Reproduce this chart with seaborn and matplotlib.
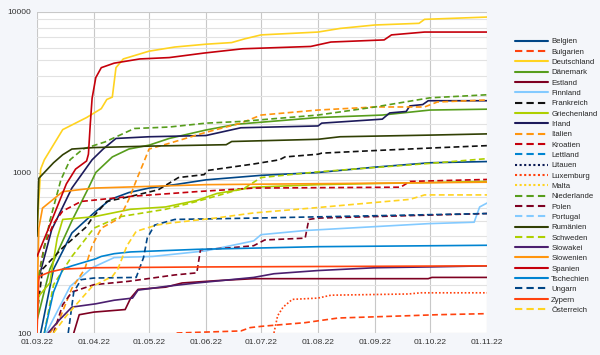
import pandas as pd
import matplotlib
matplotlib.use("Agg")
import matplotlib.pyplot as plt
import matplotlib.dates as mdates
from matplotlib.ticker import FixedLocator, NullFormatter, FuncFormatter
import seaborn as sns

# ---------------- DATA (Datum, Wert) ----------------
BELGIEN = [("03.03.22", 100), ("10.03.22", 250), ("20.03.22", 420), ("01.04.22", 560), ("10.04.22", 680),
           ("20.04.22", 750), ("01.05.22", 800), ("15.05.22", 840), ("01.06.22", 900), ("01.07.22", 960),
           ("01.08.22", 1000), ("01.09.22", 1080), ("01.10.22", 1150), ("01.11.22", 1170)]
BULGARIEN = [("16.05.22", 100), ("20.06.22", 103), ("25.06.22", 108), ("01.07.22", 110), ("25.07.22", 116),
             ("12.08.22", 124), ("18.09.22", 128), ("05.10.22", 130), ("01.11.22", 132)]
DEUTSCHLAND = [("01.03.22", 430), ("03.03.22", 1050), ("05.03.22", 1200), ("15.03.22", 1850), ("28.03.22", 2200),
               ("05.04.22", 2500), ("08.04.22", 2850), ("11.04.22", 2950), ("13.04.22", 4500), ("17.04.22", 5100),
               ("01.05.22", 5700), ("15.05.22", 6050), ("01.06.22", 6300), ("15.06.22", 6450), ("22.06.22", 6800),
               ("01.07.22", 7200), ("01.08.22", 7500), ("13.08.22", 7900), ("01.09.22", 8300), ("25.09.22", 8500),
               ("28.09.22", 9000), ("01.11.22", 9300)]
DAENEMARK = [("01.03.22", 120), ("08.03.22", 250), ("20.03.22", 500), ("29.03.22", 800), ("02.04.22", 1000),
             ("11.04.22", 1250), ("20.04.22", 1400), ("01.05.22", 1480), ("12.05.22", 1630), ("01.06.22", 1840),
             ("18.06.22", 2000), ("01.08.22", 2200), ("05.09.22", 2280), ("01.10.22", 2450), ("01.11.22", 2480)]
ESTLAND = [("21.03.22", 100), ("24.03.22", 130), ("01.04.22", 135), ("18.04.22", 140), ("21.04.22", 165),
           ("25.04.22", 187), ("10.05.22", 193), ("19.05.22", 205), ("07.06.22", 212), ("27.06.22", 218),
           ("30.09.22", 218), ("02.10.22", 222), ("01.11.22", 222)]
FINNLAND = [("06.03.22", 100), ("19.03.22", 195), ("31.03.22", 255), ("12.04.22", 295), ("03.05.22", 300),
            ("01.06.22", 325), ("27.06.22", 375), ("01.07.22", 410), ("25.07.22", 435), ("01.09.22", 460),
            ("30.09.22", 480), ("25.10.22", 490), ("28.10.22", 610), ("01.11.22", 645)]
FRANKREICH = [("01.03.22", 130), ("04.03.22", 250), ("15.03.22", 340), ("28.03.22", 460), ("31.03.22", 520),
              ("08.04.22", 660), ("21.04.22", 710), ("06.05.22", 780), ("17.05.22", 930), ("31.05.22", 970),
              ("02.06.22", 1030), ("27.06.22", 1130), ("11.07.22", 1200), ("14.07.22", 1250), ("01.08.22", 1300),
              ("03.08.22", 1320), ("01.09.22", 1370), ("01.10.22", 1420), ("01.11.22", 1470)]
GRIECHENLAND = [("01.03.22", 120), ("02.03.22", 170), ("08.03.22", 205), ("12.03.22", 390), ("15.03.22", 510),
                ("01.04.22", 530), ("21.04.22", 590), ("10.05.22", 610), ("27.05.22", 670), ("07.06.22", 740),
                ("27.06.22", 810), ("01.08.22", 840), ("01.11.22", 880)]
IRLAND = [("01.03.22", 200), ("09.03.22", 440), ("20.03.22", 800), ("31.03.22", 1200), ("06.04.22", 1400),
          ("13.04.22", 1630), ("01.05.22", 1670), ("01.06.22", 1700), ("20.06.22", 1900), ("01.08.22", 1950),
          ("03.08.22", 2030), ("05.09.22", 2150), ("09.09.22", 2350), ("18.09.22", 2400), ("20.09.22", 2600),
          ("27.09.22", 2650), ("30.09.22", 2800), ("01.11.22", 2800)]
ITALIEN = [("08.03.22", 100), ("13.03.22", 120), ("20.03.22", 190), ("27.03.22", 250), ("31.03.22", 350),
           ("05.04.22", 450), ("15.04.22", 520), ("20.04.22", 680), ("25.04.22", 950), ("28.04.22", 1150),
           ("01.05.22", 1400), ("12.05.22", 1520), ("01.06.22", 1780), ("20.06.22", 2030), ("01.07.22", 2280),
           ("01.08.22", 2450), ("01.09.22", 2560), ("28.09.22", 2560), ("05.10.22", 2750), ("01.11.22", 2830)]
KROATIEN = [("01.03.22", 200), ("05.03.22", 350), ("10.03.22", 480), ("15.03.22", 575), ("25.03.22", 660),
            ("21.04.22", 710), ("27.05.22", 760), ("27.06.22", 800), ("15.09.22", 810), ("20.09.22", 880),
            ("01.11.22", 905)]
LETTLAND = [("01.03.22", 20), ("01.11.22", 60)]
LITAUEN = [("01.03.22", 20), ("01.11.22", 60)]
LUXEMBURG = [("08.07.22", 100), ("10.07.22", 128), ("13.07.22", 145), ("18.07.22", 162), ("01.08.22", 165),
             ("08.08.22", 172), ("19.09.22", 175), ("26.09.22", 178), ("01.11.22", 178)]
MALTA = [("01.03.22", 20), ("01.11.22", 60)]
NIEDERLANDE = [("01.03.22", 200), ("08.03.22", 500), ("14.03.22", 900), ("19.03.22", 1200), ("26.03.22", 1400),
               ("07.04.22", 1550), ("23.04.22", 1880), ("12.05.22", 1920), ("01.06.22", 2030), ("20.06.22", 2080),
               ("01.08.22", 2280), ("01.09.22", 2560), ("01.10.22", 2920), ("01.11.22", 3050)]
POLEN = [("10.03.22", 100), ("15.03.22", 150), ("20.03.22", 180), ("01.04.22", 200), ("20.04.22", 210),
         ("15.05.22", 230), ("27.05.22", 237), ("29.05.22", 330), ("15.06.22", 340), ("27.06.22", 350),
         ("03.07.22", 380), ("25.07.22", 390), ("27.07.22", 510), ("01.08.22", 520), ("01.11.22", 555)]
PORTUGAL = [("01.03.22", 20), ("01.11.22", 60)]
RUMAENIEN = [("01.03.22", 400), ("02.03.22", 920), ("10.03.22", 1150), ("15.03.22", 1290), ("20.03.22", 1400),
             ("01.04.22", 1430), ("01.05.22", 1460), ("12.06.22", 1490), ("15.06.22", 1560), ("01.08.22", 1610),
             ("13.08.22", 1670), ("01.10.22", 1710), ("01.11.22", 1740)]
SCHWEDEN = [("05.03.22", 100), ("10.03.22", 200), ("20.03.22", 300), ("01.04.22", 450), ("15.04.22", 530),
            ("10.05.22", 590), ("27.05.22", 660), ("22.06.22", 800), ("01.07.22", 930), ("01.08.22", 1010),
            ("01.10.22", 1140), ("01.11.22", 1220)]
SLOWAKEI = [("07.03.22", 100), ("13.03.22", 120), ("20.03.22", 145), ("02.04.22", 152), ("12.04.22", 160),
            ("22.04.22", 165), ("25.04.22", 185), ("10.05.22", 195), ("27.05.22", 205), ("27.06.22", 222),
            ("08.07.22", 234), ("01.08.22", 245), ("01.09.22", 255), ("30.09.22", 258), ("01.11.22", 262)]
SLOWENIEN = [("01.03.22", 150), ("02.03.22", 450), ("04.03.22", 600), ("15.03.22", 760), ("01.04.22", 800),
             ("01.06.22", 840), ("01.11.22", 870)]
SPANIEN = [("01.03.22", 300), ("07.03.22", 440), ("17.03.22", 850), ("22.03.22", 1050), ("28.03.22", 1180),
           ("29.03.22", 1300), ("30.03.22", 2000), ("31.03.22", 2900), ("02.04.22", 3900), ("05.04.22", 4500),
           ("12.04.22", 4800), ("26.04.22", 5100), ("12.05.22", 5200), ("31.05.22", 5550), ("21.06.22", 5900),
           ("28.07.22", 6100), ("08.08.22", 6500), ("06.09.22", 6700), ("10.09.22", 7200), ("28.09.22", 7500),
           ("01.11.22", 7500)]
TSCHECHIEN = [("05.03.22", 100), ("10.03.22", 180), ("15.03.22", 250), ("20.03.22", 262), ("02.04.22", 290),
              ("05.04.22", 300), ("12.04.22", 312), ("21.04.22", 320), ("27.05.22", 332), ("27.06.22", 338),
              ("01.08.22", 345), ("01.11.22", 352)]
UNGARN = [("18.03.22", 100), ("21.03.22", 180), ("25.03.22", 215), ("01.04.22", 220), ("24.04.22", 222),
          ("28.04.22", 295), ("30.04.22", 390), ("04.05.22", 470), ("15.05.22", 510), ("27.06.22", 520),
          ("01.11.22", 555)]
ZYPERN = [("01.03.22", 100), ("02.03.22", 225), ("08.03.22", 240), ("15.03.22", 250), ("01.04.22", 255),
          ("01.06.22", 258), ("01.11.22", 262)]
OESTERREICH = [("10.03.22", 100), ("17.03.22", 128), ("31.03.22", 195), ("11.04.22", 225), ("14.04.22", 250),
               ("19.04.22", 350), ("24.04.22", 430), ("05.05.22", 470), ("13.05.22", 485), ("06.06.22", 520),
               ("27.06.22", 560), ("01.08.22", 605), ("20.09.22", 680), ("28.09.22", 725), ("01.11.22", 725)]

SERIES = {
    "Belgien": BELGIEN, "Bulgarien": BULGARIEN, "Deutschland": DEUTSCHLAND, "Dänemark": DAENEMARK,
    "Estland": ESTLAND, "Finnland": FINNLAND, "Frankreich": FRANKREICH, "Griechenland": GRIECHENLAND,
    "Irland": IRLAND, "Italien": ITALIEN, "Kroatien": KROATIEN, "Lettland": LETTLAND, "Litauen": LITAUEN,
    "Luxemburg": LUXEMBURG, "Malta": MALTA, "Niederlande": NIEDERLANDE, "Polen": POLEN,
    "Portugal": PORTUGAL, "Rumänien": RUMAENIEN, "Schweden": SCHWEDEN, "Slowakei": SLOWAKEI,
    "Slowenien": SLOWENIEN, "Spanien": SPANIEN, "Tschechien": TSCHECHIEN, "Ungarn": UNGARN,
    "Zypern": ZYPERN, "Österreich": OESTERREICH,
}

# ---------------- STYLE ----------------
SOLID, DASH, DOT = "", (3.5, 2), (1, 1.2)
STYLES = {
    "Belgien": ("#004586", SOLID), "Bulgarien": ("#ff420e", DASH), "Deutschland": ("#ffd320", SOLID),
    "Dänemark": ("#579d1c", SOLID), "Estland": ("#7e0021", SOLID), "Finnland": ("#83caff", SOLID),
    "Frankreich": ("#111111", DASH), "Griechenland": ("#aecf00", SOLID), "Irland": ("#1c1a5a", SOLID),
    "Italien": ("#ff950e", DASH), "Kroatien": ("#c5000b", DASH), "Lettland": ("#0084d1", DASH),
    "Litauen": ("#0a1a55", DOT), "Luxemburg": ("#ff420e", DOT), "Malta": ("#ffd320", DOT),
    "Niederlande": ("#579d1c", DASH), "Polen": ("#7e0021", DASH), "Portugal": ("#83caff", DASH),
    "Rumänien": ("#314004", SOLID), "Schweden": ("#aecf00", DASH), "Slowakei": ("#4b1f6f", SOLID),
    "Slowenien": ("#ff950e", SOLID), "Spanien": ("#c5000b", SOLID), "Tschechien": ("#0084d1", SOLID),
    "Ungarn": ("#004586", DASH), "Zypern": ("#ff420e", SOLID), "Österreich": ("#ffd320", DASH),
}

rows = []
for land, pts in SERIES.items():
    for d, v in pts:
        rows.append({"Datum": pd.to_datetime(d, format="%d.%m.%y"), "Wert": v, "Land": land})
df = pd.DataFrame(rows)
laender = list(SERIES.keys())

sns.set_style("white")
plt.rcParams["font.family"] = ["Liberation Sans", "DejaVu Sans"]

fig = plt.figure(figsize=(6, 3.55), dpi=100, facecolor="#f4f6fa")
ax = fig.add_axes([37 / 600, 22 / 355, 450 / 600, 321 / 355])
ax.set_facecolor("white")

sns.lineplot(data=df, x="Datum", y="Wert", hue="Land", style="Land",
             hue_order=laender, style_order=laender,
             palette={k: c for k, (c, _) in STYLES.items()},
             dashes={k: s for k, (_, s) in STYLES.items()},
             linewidth=1.2, estimator=None, ax=ax)

ax.set_yscale("log")
ax.set_ylim(100, 10000)
ax.set_xlim(pd.Timestamp("2022-03-01"), pd.Timestamp("2022-11-01"))
ax.xaxis.set_major_locator(mdates.MonthLocator())
ax.xaxis.set_major_formatter(mdates.DateFormatter("%d.%m.%y"))
ax.yaxis.set_major_locator(FixedLocator([100, 1000, 10000]))
ax.yaxis.set_major_formatter(FuncFormatter(lambda v, p: f"{int(v)}"))
ax.yaxis.set_minor_formatter(NullFormatter())
ax.grid(True, which="major", color="#c8c8c8", linewidth=0.8)
ax.grid(True, which="minor", axis="y", color="#e2e2e2", linewidth=0.8)
ax.set_axisbelow(True)
ax.tick_params(axis="both", which="both", length=0, labelsize=6, colors="#333333", pad=4)
ax.set_xlabel("")
ax.set_ylabel("")
for side in ["top", "right", "bottom", "left"]:
    ax.spines[side].set_visible(False)

handles, labels = ax.get_legend_handles_labels()
ax.get_legend().remove()
leg = fig.legend(handles, labels, loc="upper left", bbox_to_anchor=(515 / 600, 1 - 38 / 355),
                 frameon=False, fontsize=5.6, handlelength=4.3, handletextpad=0.35,
                 labelspacing=0.37, borderpad=0, borderaxespad=0)
for line in leg.get_lines():
    line.set_linewidth(1.5)

fig.savefig("out.png", dpi=100, facecolor=fig.get_facecolor())
